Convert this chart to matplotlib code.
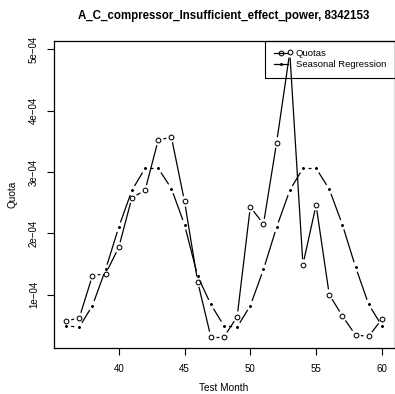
import numpy as np
import matplotlib
matplotlib.use("Agg")
import matplotlib.pyplot as plt
from matplotlib.lines import Line2D

# Veriler
months = list(range(36, 61))
quotas = [0.57e-4, 0.62e-4, 1.31e-4, 1.34e-4, 1.77e-4, 2.58e-4, 2.70e-4, 3.52e-4,
          3.57e-4, 2.52e-4, 1.21e-4, 0.31e-4, 0.31e-4, 0.64e-4, 2.43e-4, 2.15e-4,
          3.48e-4, 4.95e-4, 1.49e-4, 2.46e-4, 1.00e-4, 0.65e-4, 0.34e-4, 0.32e-4,
          0.60e-4]
seasonal = [0.49e-4, 0.47e-4, 0.82e-4, 1.41e-4, 2.10e-4, 2.70e-4, 3.06e-4, 3.06e-4,
            2.73e-4, 2.14e-4, 1.30e-4, 0.84e-4, 0.49e-4, 0.47e-4, 0.82e-4, 1.41e-4,
            2.10e-4, 2.70e-4, 3.06e-4, 3.06e-4, 2.72e-4, 2.14e-4, 1.45e-4, 0.84e-4,
            0.49e-4]
x_ticks = [40, 45, 50, 55, 60]
y_ticks = [1e-4, 2e-4, 3e-4, 4e-4, 5e-4]
y_tick_labels = ["1e\u221204", "2e\u221204", "3e\u221204", "4e\u221204", "5e\u221204"]

plt.rcParams["font.family"] = ["Liberation Sans", "DejaVu Sans"]

W, H = 395, 394
fig = plt.figure(figsize=(W / 100, H / 100), dpi=100)
ax = fig.add_axes([53.5 / W, (H - 348.3) / H, (394.5 - 53.5) / W, (348.3 - 41) / H])


def r_limits(vals):
    lo, hi = min(vals), max(vals)
    pad = (hi - lo) * 0.04
    return lo - pad, hi + pad


ax.set_xlim(*r_limits(months))
ax.set_ylim(*r_limits(quotas + seasonal))


def type_b(x, y, gap, marker, ms, mew):
    # R type="b": segmentler noktalarin etrafinda bosluk birakir
    pts = ax.transData.transform(np.column_stack([x, y]))
    inv = ax.transData.inverted()
    for p0, p1 in zip(pts[:-1], pts[1:]):
        d = p1 - p0
        L = np.hypot(*d)
        if L <= 2 * gap:
            continue
        u = d / L
        a = inv.transform(p0 + u * gap)
        b = inv.transform(p1 - u * gap)
        ax.plot([a[0], b[0]], [a[1], b[1]], color="black", lw=0.9,
                solid_capstyle="butt")
    ax.plot(x, y, ls="none", marker=marker, ms=ms, mfc="none", mec="black", mew=mew)


type_b(months, quotas, 5.3, "o", 3.4, 0.75)
type_b(months, seasonal, 5.0, (6, 2, 0), 2.0, 0.5)

ax.set_xticks(x_ticks)
ax.set_yticks(y_ticks)
ax.set_yticklabels(y_tick_labels, rotation=90, va="center")
ax.tick_params(direction="out", length=5, width=0.8, labelsize=7)
ax.tick_params(axis="x", pad=6)
ax.tick_params(axis="y", pad=5.5)
for s in ax.spines.values():
    s.set_linewidth(0.9)

ax.set_xlabel("Test Month", fontsize=7.2, labelpad=6.5)
ax.set_ylabel("Quota", fontsize=7.2, labelpad=8)
ax.set_title("A_C_compressor_Insufficient_effect_power, 8342153",
             fontsize=8.3, fontweight="bold", pad=15.5)

handles = [
    Line2D([], [], color="black", lw=0.9, marker="o", ms=3.4, mfc="none", mew=0.75),
    Line2D([], [], color="black", lw=0.9, marker=(6, 2, 0), ms=2.0, mew=0.5),
]
leg = ax.legend(handles, ["Quotas", "Seasonal Regression"], loc="upper right",
                fontsize=6.8, frameon=True, fancybox=False, framealpha=1,
                edgecolor="black", borderaxespad=0, handlelength=1.5,
                handletextpad=0.8, labelspacing=0.2, borderpad=0.9)
leg.get_frame().set_linewidth(0.8)
leg.get_frame().set_facecolor("none")

fig.savefig("out.png", dpi=100)
